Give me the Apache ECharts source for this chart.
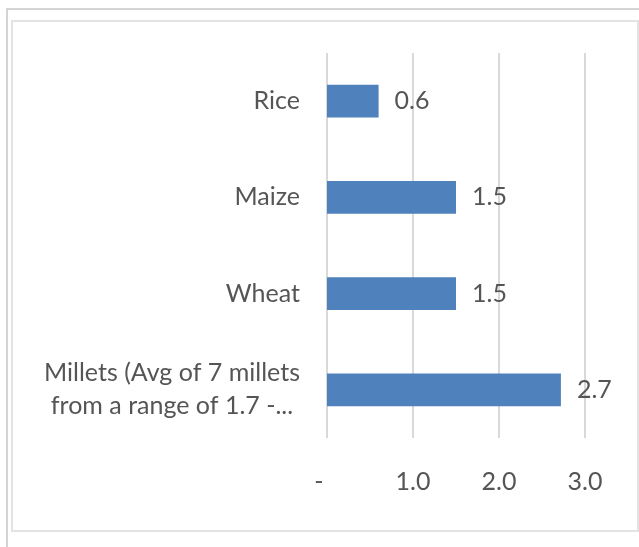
<!DOCTYPE html>
<html>
<head>
<meta charset="utf-8">
<script src="https://cdn.jsdelivr.net/npm/echarts@6/dist/echarts.min.js"></script>
<style>
  html, body { margin: 0; padding: 0; background: #fff; }
  #chart { width: 639px; height: 547px; }
</style>
</head>
<body>
<div id="chart"></div>
<script>
const crops = ['Rice', 'Maize', 'Wheat', 'Millets (Avg of 7 millets\nfrom a range of 1.7 -...'];
const values = [0.6, 1.5, 1.5, 2.72];
const tickLabels = ['-', '1.0', '2.0', '3.0'];

const FONT = 'Lato';
const TEXT = '#555555';
const SIZE = 25;

const chart = echarts.init(document.getElementById('chart'));

chart.setOption({
  animation: false,
  textStyle: { fontFamily: FONT },
  graphic: [
    // outer frame (top + left edges only)
    { type: 'polyline', shape: { points: [[7, 547], [7, 9], [639, 9]] },
      style: { stroke: '#c6c6c6', lineWidth: 1.5, fill: null }, silent: true },
    // inner chart-area border
    { type: 'rect', shape: { x: 12, y: 21, width: 626, height: 510 },
      style: { stroke: '#e3e3e3', lineWidth: 2, fill: null }, silent: true }
  ],
  grid: { left: 327, right: 54, top: 53, bottom: 109, containLabel: false },
  xAxis: {
    type: 'value',
    min: 0,
    max: 3,
    interval: 1,
    axisLine: { show: false },
    axisTick: { show: false },
    splitLine: { lineStyle: { color: '#d9d9d9', width: 2 } },
    axisLabel: {
      color: TEXT,
      fontSize: SIZE,
      margin: 31,
      formatter: (v) => {
        const t = tickLabels[Math.round(v)];
        return v === 0 ? `{z|${t}}` : t;
      },
      rich: { z: { fontSize: SIZE, color: TEXT, padding: [0, 16, 0, 0] } }
    }
  },
  yAxis: {
    type: 'category',
    inverse: true,
    data: crops,
    axisLine: { show: false },
    axisTick: { show: false },
    axisLabel: {
      color: TEXT,
      fontSize: SIZE,
      margin: 27,
      lineHeight: 33,
      formatter: (v) => {
        if (v.indexOf('\n') === -1) return v;
        return v.split('\n').map(line => `{m|${line}}`).join('\n');
      },
      rich: { m: { width: 256, align: 'center', fontSize: SIZE, color: TEXT, lineHeight: 33 } }
    }
  },
  series: [{
    type: 'bar',
    data: values,
    barWidth: '34%',
    itemStyle: { color: '#4f81bd' },
    label: {
      show: true,
      position: 'right',
      distance: 16,
      color: TEXT,
      fontSize: SIZE,
      formatter: (p) => p.value.toFixed(1)
    }
  }]
});
</script>
</body>
</html>
